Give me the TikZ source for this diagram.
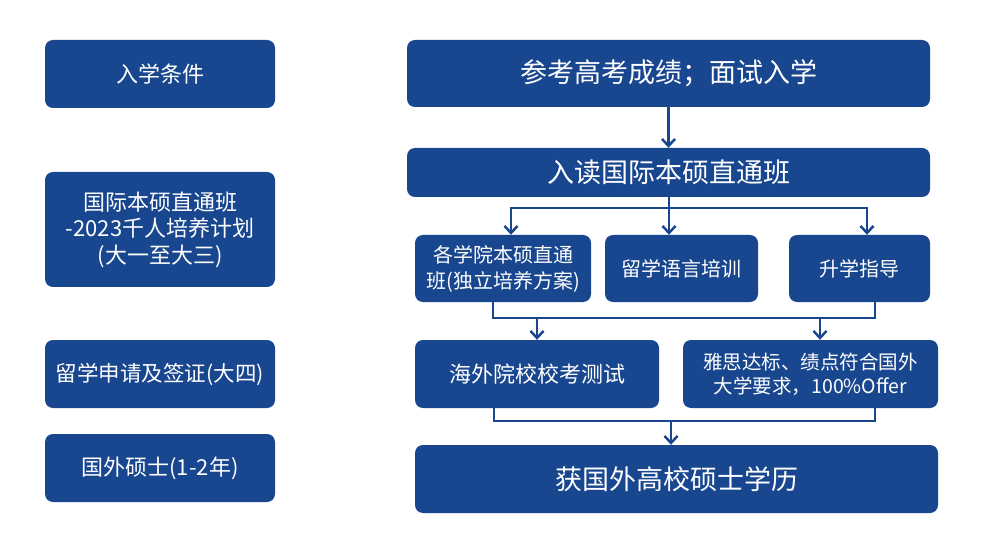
\documentclass[tikz,border=0pt]{standalone}
\usepackage{fontspec}
\setmainfont{Noto Sans CJK SC}
\usetikzlibrary{arrows.meta,calc}
\definecolor{boxblue}{RGB}{25,71,143}
\begin{document}
\begin{tikzpicture}[x=1pt,y=-1pt,
  box/.style={fill=boxblue,rounded corners=8pt,text=white,align=center,inner sep=0pt},
  conn/.style={draw=boxblue,line width=2.5pt},
  arr/.style={conn,-{Straight Barb[length=7pt,width=13pt,line width=2.5pt]}}]
\useasboundingbox (0,0) rectangle (1000,534);
% left column
\node[box,minimum width=230pt,minimum height=68pt,font=\fontsize{22}{25}\selectfont] (L1) at (160,74) {入学条件};
\node[box,minimum width=230pt,minimum height=115pt,font=\fontsize{22}{26.5}\selectfont] (L2) at (160,229.5) {国际本硕直通班\\-2023千人培养计划\\(大一至大三)};
\node[box,minimum width=230pt,minimum height=68pt,font=\fontsize{21.5}{25}\selectfont] (L3) at (160,374) {留学申请及签证(大四)};
\node[box,minimum width=230pt,minimum height=68pt,font=\fontsize{22}{25}\selectfont] (L4) at (160,468) {国外硕士(1-2年)};
% right column
\node[box,minimum width=523pt,minimum height=67pt,font=\fontsize{27}{30}\selectfont] (R1) at (668.5,73.5) {参考高考成绩；面试入学};
\node[box,minimum width=523pt,minimum height=49pt,font=\fontsize{27}{30}\selectfont] (R2) at (668.5,172.5) {入读国际本硕直通班};
\node[box,minimum width=176pt,minimum height=67pt,font=\fontsize{20}{26}\selectfont] (R3a) at (503,268.5) {各学院本硕直通\\班(独立培养方案)};
\node[box,minimum width=153pt,minimum height=67pt,font=\fontsize{20}{24}\selectfont] (R3b) at (681.5,268.5) {留学语言培训};
\node[box,minimum width=141pt,minimum height=67pt,font=\fontsize{20}{24}\selectfont] (R3c) at (859.5,268.5) {升学指导};
\node[box,minimum width=244pt,minimum height=68pt,font=\fontsize{22}{26}\selectfont] (R4a) at (537,374) {海外院校校考测试};
\node[box,minimum width=255pt,minimum height=68pt,font=\fontsize{19.5}{24}\selectfont] (R4b) at (810.5,374) {雅思达标、绩点符合国外\\大学要求，100\%Offer};
\node[box,minimum width=523pt,minimum height=68pt,font=\fontsize{27}{30}\selectfont] (R5) at (676.5,479) {获国外高校硕士学历};
% connectors
\draw[arr] (R1.south) -- (R2.north);
\coordinate (s0) at (669,208);
\coordinate (sL) at (511,208);
\coordinate (sR) at (867,208);
\draw[conn] (R2.south -| s0) -- (s0);
\draw[conn,line cap=rect] (sL) -- (sR);
\draw[arr] (sL) -- (sL |- R3a.north);
\draw[arr] (s0) -- (s0 |- R3b.north);
\draw[arr] (sR) -- (sR |- R3c.north);
\coordinate (m1L) at (493,318);
\coordinate (m1R) at (875,318);
\coordinate (m1a) at (537,318);
\coordinate (m1b) at (820,318);
\draw[conn] (m1L |- R3a.south) -- (m1L) -- (m1R) -- (m1R |- R3c.south);
\draw[arr] (m1a) -- (m1a |- R4a.north);
\draw[arr] (m1b) -- (m1b |- R4b.north);
\coordinate (m2L) at (494,421);
\coordinate (m2R) at (875,421);
\coordinate (m2a) at (671,421);
\draw[conn] (m2L |- R4a.south) -- (m2L) -- (m2R) -- (m2R |- R4b.south);
\draw[arr] (m2a) -- (m2a |- R5.north);
\end{tikzpicture}
\end{document}
